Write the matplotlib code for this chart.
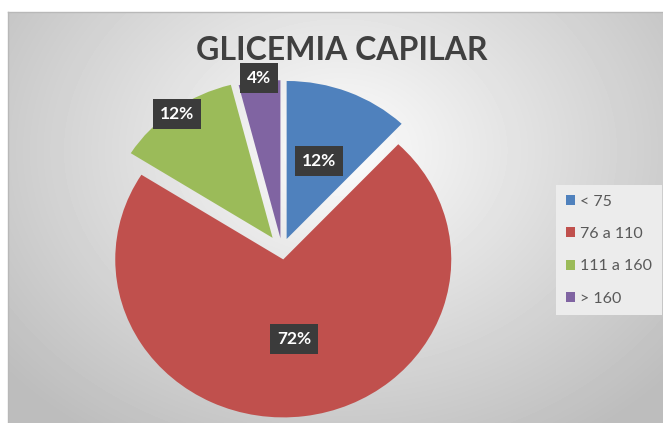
import numpy as np
import matplotlib.pyplot as plt

categories = ['< 75', '76 a 110', '111 a 160', '> 160']
values = [12, 72, 12, 4]
colors = ['#4f81bd', '#c0504d', '#9bbb59', '#8064a2']
explode = [0.075, 0.06, 0.095, 0.075]
label_dist = [0.53, 0.51, 0.97, 1.02]

W, H = 663, 423
R = 168
fig = plt.figure(figsize=(W / 100, H / 100), dpi=100)
fig.patch.set_facecolor('white')

# background panel with a soft radial gradient
bg = fig.add_axes([0, 0, 1, 1])
bg.set_xlim(0, W)
bg.set_ylim(H, 0)
bg.axis('off')
xx, yy = np.meshgrid(np.arange(8, W), np.arange(12, H))
d = np.sqrt(((xx - 340) / 420.0) ** 2 + ((yy - 150) / 330.0) ** 2)
shade = np.clip(0.99 - 0.24 * d, 0.74, 1.0)
bg.imshow(shade, cmap='gray', vmin=0, vmax=1, extent=(8, W, H, 12),
          aspect='auto', interpolation='bilinear')
bg.plot([8, W], [12, 12], color='#b8b8b8', lw=1)
bg.plot([8, 8], [12, H], color='#b8b8b8', lw=1)

# pie, slightly taller-than-wide scale like the source image
k = 168 / 158
ax = fig.add_axes([0, 0, 1, 1])
ax.patch.set_alpha(0)
cx, cy = 282, (H - 250) * k
wedges, _ = ax.pie(values, colors=colors, explode=[e * R for e in explode],
                   startangle=90, counterclock=False, radius=R,
                   center=(cx, cy), wedgeprops=dict(linewidth=0))
ax.set_aspect('auto')
ax.set_xlim(0, W)
ax.set_ylim(0, H * k)
ax.axis('off')

total = sum(values)
for w, v, dist in zip(wedges, values, label_dist):
    mid = np.deg2rad((w.theta1 + w.theta2) / 2)
    x = w.center[0] + R * dist * np.cos(mid)
    y = w.center[1] + R * dist * np.sin(mid)
    ax.text(x, y, f'{round(100 * v / total)}%', ha='center', va='center',
            color='white', fontsize=12.5, fontweight='bold', family='Lato',
            bbox=dict(boxstyle='square,pad=0.4', fc='#3b3b3b', ec='none'))

fig.text(342 / W, 1 - 50 / H, 'GLICEMIA CAPILAR', ha='center', va='center',
         fontsize=23, fontweight='bold', family='Lato', color='#404040')

leg = fig.legend(wedges, categories, loc='upper left',
                 bbox_to_anchor=(556 / W, 1 - 185 / H), frameon=True,
                 borderaxespad=0,
                 prop=dict(family='Lato', size=11.5), labelcolor='#595959',
                 handlelength=0.6, handleheight=0.6, handletextpad=0.3,
                 labelspacing=1.15, borderpad=0.6, fancybox=False)
leg.get_frame().set_facecolor('#ececec')
leg.get_frame().set_edgecolor('none')
leg.get_frame().set_alpha(1)

fig.savefig('out.png', dpi=100)
